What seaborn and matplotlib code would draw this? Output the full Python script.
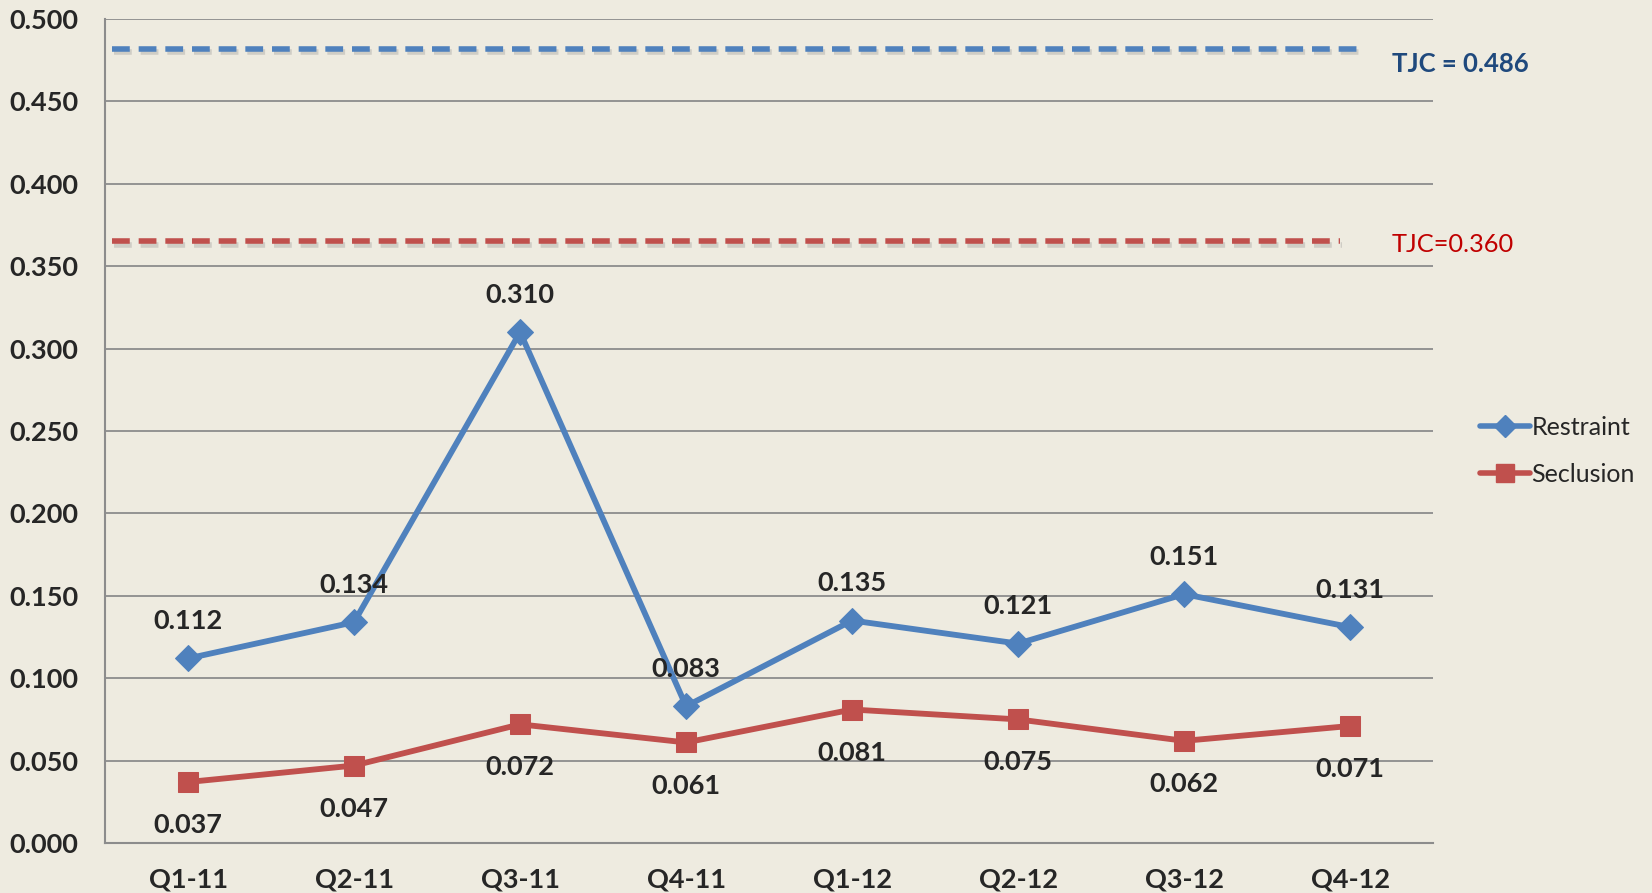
import matplotlib; matplotlib.use("Agg")
import matplotlib.pyplot as plt
import matplotlib.patheffects as pe
from matplotlib.lines import Line2D
import numpy as np
import seaborn as sns

quarters = ["Q1-11", "Q2-11", "Q3-11", "Q4-11", "Q1-12", "Q2-12", "Q3-12", "Q4-12"]
restraint = [0.112, 0.134, 0.310, 0.083, 0.135, 0.121, 0.151, 0.131]
seclusion = [0.037, 0.047, 0.072, 0.061, 0.081, 0.075, 0.062, 0.071]
tjc_restraint = 0.482   # drawn position of "TJC = 0.486" line
tjc_seclusion = 0.365   # drawn position of "TJC=0.360" line

BG = "#EEEBE0"; BLUE = "#4F81BD"; RED = "#C0504D"; GRID = "#8C8C8C"
sns.set_style("white")
plt.rcParams["font.family"] = ["Lato", "DejaVu Sans"]

fig, ax = plt.subplots(figsize=(16.52, 8.93), dpi=100)
fig.patch.set_facecolor(BG); ax.set_facecolor(BG)
fig.subplots_adjust(left=0.0636, right=0.8675, top=0.9787, bottom=0.056)

x = np.arange(len(quarters))
shadow = [pe.SimpleLineShadow(offset=(1.5, -2.5), shadow_color="#888888", alpha=0.3), pe.Normal()]
ax.plot([-0.46, 7.04], [tjc_restraint] * 2, color=BLUE, lw=4, ls=(0, (3.2, 1.6)), path_effects=shadow, zorder=3)
ax.plot([-0.46, 6.94], [tjc_seclusion] * 2, color=RED, lw=4, ls=(0, (3.2, 1.6)), path_effects=shadow, zorder=3)

sns.lineplot(x=x, y=restraint, ax=ax, color=BLUE, lw=4.2, marker="D", markersize=13,
             markeredgecolor=BLUE, zorder=5)
sns.lineplot(x=x, y=seclusion, ax=ax, color=RED, lw=4.2, marker="s", markersize=15,
             markeredgecolor=RED, zorder=5)

for xi, v in zip(x, restraint):
    ax.annotate(f"{v:.3f}", (xi, v), xytext=(0, 27), textcoords="offset points",
                ha="center", va="center", fontsize=19.5, fontweight="bold", zorder=6)
for xi, v in zip(x, seclusion):
    ax.annotate(f"{v:.3f}", (xi, v), xytext=(0, -31), textcoords="offset points",
                ha="center", va="center", fontsize=19.5, fontweight="bold", zorder=6)

ax.text(7.25, 0.4727, "TJC = 0.486", color="#1F497D", fontsize=18.5, fontweight="bold", va="center", ha="left")
ax.text(7.25, 0.3631, "TJC=0.360", color="#C00000", fontsize=18.3, va="center", ha="left")

ax.set_xlim(-0.5, 7.5); ax.set_ylim(0, 0.5)
ax.set_yticks(np.arange(0, 0.501, 0.05))
ax.set_yticklabels([f"{t:.3f}" for t in np.arange(0, 0.501, 0.05)], fontsize=19.5, fontweight="bold")
ax.set_xticks(x); ax.set_xticklabels(quarters, fontsize=19.5, fontweight="bold")
ax.set_xticks(np.arange(-0.5, 7.6, 1), minor=True)
ax.tick_params(axis="x", which="major", length=0, pad=18)
ax.tick_params(axis="x", which="minor", length=6, width=1.3, color=GRID, direction="out")
ax.tick_params(axis="y", length=6, width=1.3, color=GRID, direction="out", pad=13)
ax.grid(axis="y", color=GRID, lw=1.3); ax.set_axisbelow(True)
for s in ["top", "right"]: ax.spines[s].set_visible(False)
for s in ["left", "bottom"]: ax.spines[s].set_color(GRID); ax.spines[s].set_linewidth(1.5)

handles = [Line2D([], [], color=BLUE, lw=4, marker="D", markersize=11, markeredgecolor=BLUE),
           Line2D([], [], color=RED, lw=4, marker="s", markersize=13, markeredgecolor=RED)]
ax.legend(handles, ["Restraint", "Seclusion"], loc="center left", bbox_to_anchor=(1.028, 0.476),
          frameon=False, fontsize=18, handlelength=2.0, handletextpad=0.05, labelspacing=0.95, borderaxespad=0)

fig.savefig("out.png", dpi=100, facecolor=BG)
